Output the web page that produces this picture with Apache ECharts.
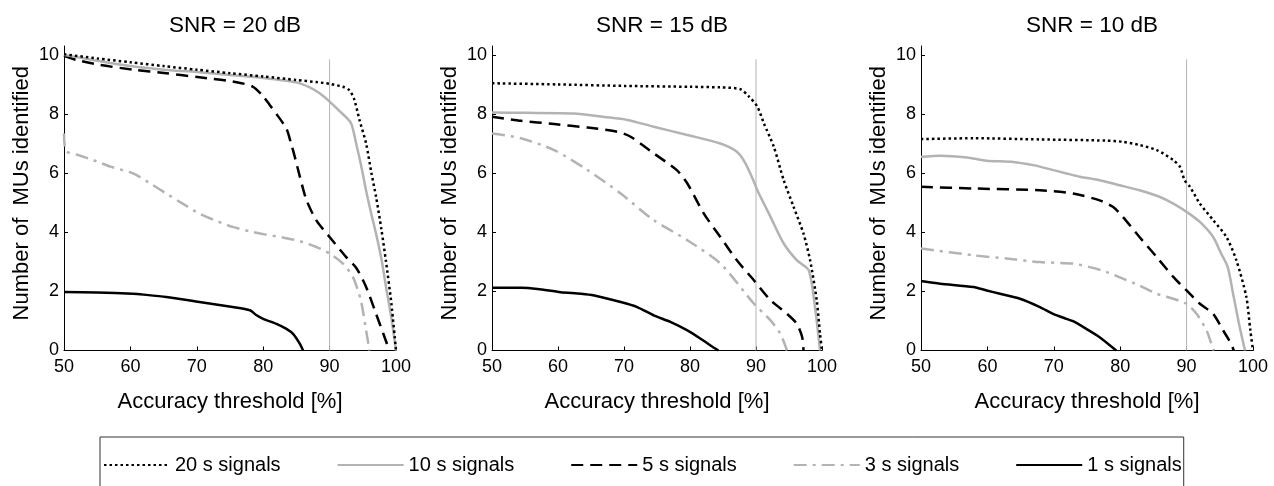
<!DOCTYPE html>
<html>
<head>
<meta charset="utf-8">
<script src="https://cdn.jsdelivr.net/npm/echarts@6/dist/echarts.min.js"></script>
<style>
html,body{margin:0;padding:0;background:#fff;}
#chart{width:1274px;height:486px;}
</style>
</head>
<body>
<div id="chart"></div>
<script>
// ---- data ----
const panelTitles = ['SNR = 20 dB', 'SNR = 15 dB', 'SNR = 10 dB'];
const seriesNames = ['20 s signals', '10 s signals', '5 s signals', '3 s signals', '1 s signals'];
const xTicks = [50, 60, 70, 80, 90, 100];
const yTicks = [0, 2, 4, 6, 8, 10];
const refLine = [[90, 0], [90, 9.85]];

// SNR = 20 dB
const snr20_s20 = [[50,10.02],[55,9.88],[60,9.75],[65,9.62],[70,9.5],[75,9.38],[80,9.27],[85,9.15],[88,9.08],[90,9.02],[92,8.92],[93,8.8],[93.7,8.5],[94.5,7.8],[95.5,7.0],[96.3,6.0],[97,5.2],[97.8,4.1],[98.5,3.0],[99.3,1.6],[100,0]];
const snr20_s10 = [[50,10.0],[55,9.8],[60,9.62],[65,9.5],[70,9.42],[75,9.32],[80,9.22],[85,9.07],[87,8.9],[88.5,8.7],[90,8.42],[91.5,8.1],[93.2,7.7],[94,7.0],[94.8,6.2],[95.5,5.4],[96.3,4.6],[97,3.95],[97.8,3.1],[98.5,2.15],[99.3,1.1],[100,0]];
const snr20_s5 = [[50,9.97],[52,9.82],[55.4,9.66],[60.4,9.5],[65.4,9.38],[70.4,9.24],[75.4,9.1],[78.4,8.93],[80,8.6],[81,8.3],[82,8.0],[83.5,7.5],[84.2,7.0],[84.7,6.6],[85.5,5.9],[86.5,5.1],[88,4.4],[90,3.84],[92.5,3.16],[94,2.8],[95.5,2.15],[97,1.24],[98.2,0.5],[99,0]];
const snr20_s3 = [[50,7.34],[50.3,6.75],[52,6.62],[54.4,6.44],[57,6.22],[60.4,5.99],[63,5.65],[65.4,5.31],[68,4.95],[70.4,4.63],[73,4.38],[75.4,4.18],[78,4.03],[80.4,3.92],[83,3.82],[85.5,3.7],[88,3.5],[90,3.28],[92,2.94],[93.5,2.49],[94.7,1.7],[95.5,0.68],[96,0]];
const snr20_s1 = [[50,1.98],[55,1.96],[60.4,1.92],[62,1.89],[65.4,1.81],[70.4,1.64],[75.4,1.47],[78,1.36],[79,1.19],[80,1.07],[82,0.9],[83.5,0.73],[84.5,0.56],[85.5,0.23],[86,0]];

// SNR = 15 dB
const snr15_s20 = [[50,9.04],[60,9.0],[70,8.95],[80,8.92],[84.6,8.9],[87.6,8.84],[88.9,8.6],[90.2,8.25],[91.2,7.68],[92.7,6.89],[94.2,5.76],[95.7,4.86],[97.2,3.95],[98.2,3.05],[99.2,1.7],[99.7,0.56],[100,0]];
const snr15_s10 = [[50,8.05],[55,8.04],[62.4,8.02],[67,7.9],[70.5,7.8],[74.5,7.57],[79.6,7.29],[84.6,7.0],[87.1,6.72],[88.4,6.33],[89.7,5.7],[90.2,5.42],[92.2,4.52],[94.2,3.62],[96.2,3.05],[98,2.71],[99,1.36],[99.7,0]];
const snr15_s5 = [[50,7.91],[54.4,7.77],[59.4,7.66],[64.5,7.54],[69,7.4],[71,7.23],[74.5,6.67],[78,6.1],[79.6,5.65],[82.1,4.63],[84.6,3.84],[87.1,3.05],[89.7,2.37],[92.2,1.7],[94.7,1.24],[96.2,0.9],[97,0.45],[97.2,0]];
const snr15_s3 = [[50,7.34],[54.4,7.18],[59.4,6.78],[64.5,6.1],[69.5,5.31],[74.5,4.41],[79.6,3.73],[84.6,2.94],[89.7,1.58],[92.2,1.02],[93.7,0.56],[94.7,0]];
const snr15_s1 = [[50,2.12],[54.4,2.12],[56.9,2.08],[60.4,1.97],[63.5,1.92],[65.5,1.86],[69.5,1.64],[72,1.47],[74.5,1.19],[77.1,0.96],[79.6,0.68],[81.6,0.4],[83.1,0.17],[84.3,0]];

// SNR = 10 dB
const snr10_s20 = [[50,7.15],[57.9,7.18],[67.9,7.14],[77.9,7.1],[80.4,7.06],[82.9,6.95],[85.5,6.78],[88,6.44],[89,6.21],[89.7,5.76],[90.5,5.54],[92,4.97],[94,4.41],[96,3.84],[97.5,3.05],[99,1.81],[99.6,0.68],[100,0]];
const snr10_s10 = [[50,6.55],[52.9,6.59],[56.9,6.53],[59.9,6.42],[63.9,6.38],[66.9,6.27],[68.9,6.16],[71.9,5.99],[73.9,5.88],[76.9,5.76],[79.9,5.59],[82.9,5.42],[85.9,5.2],[88,4.97],[90,4.69],[92,4.35],[94,3.84],[95.2,3.28],[96.2,2.82],[97,1.92],[97.9,0.9],[98.8,0]];
const snr10_s5 = [[50,5.54],[57.9,5.48],[67.9,5.42],[72.9,5.31],[76.9,5.08],[78.9,4.86],[80.4,4.52],[82.9,3.84],[85.5,3.16],[88,2.49],[90,2.03],[92,1.58],[94,1.24],[95.5,0.68],[96.7,0.23],[97.1,0]];
const snr10_s3 = [[50,3.45],[57.9,3.22],[62.9,3.11],[67.9,2.99],[72.9,2.94],[75.4,2.82],[77.9,2.66],[80.4,2.43],[82.9,2.2],[85.5,1.92],[88,1.75],[90,1.58],[91.5,1.24],[93,0.68],[93.7,0.25],[94.1,0]];
const snr10_s1 = [[50,2.35],[52.9,2.26],[57.9,2.15],[59.9,2.03],[61.9,1.92],[64.9,1.75],[67.9,1.47],[69.9,1.24],[71.9,1.07],[72.9,0.99],[74.9,0.73],[76.9,0.45],[79.4,0]];

const panelData = [
  [snr20_s20, snr20_s10, snr20_s5, snr20_s3, snr20_s1],
  [snr15_s20, snr15_s10, snr15_s5, snr15_s3, snr15_s1],
  [snr10_s20, snr10_s10, snr10_s5, snr10_s3, snr10_s1]
];

// ---- styles / layout ----
const FONT = 'Liberation Sans, Arial, Helvetica, sans-serif';
const GRAY = '#b3b3b3';
const lineStyles = [
  { color: '#000', width: 2.5, type: [2.5, 3] },
  { color: GRAY, width: 2.5, type: 'solid' },
  { color: '#000', width: 2.5, type: [12, 7] },
  { color: GRAY, width: 2.5, type: [13, 6, 3, 6] },
  { color: '#000', width: 2.5, type: 'solid' }
];
const grids = [
  { left: 64, top: 46, width: 332, height: 304.5 },
  { left: 492, top: 46, width: 330, height: 304.5 },
  { left: 921, top: 46, width: 332, height: 304.5 }
];

const option = {
  animation: false,
  backgroundColor: '#fff',
  textStyle: { fontFamily: FONT },
  title: panelTitles.map((t, i) => ({
    text: t,
    left: grids[i].left + grids[i].width / 2,
    textAlign: 'center',
    top: 9,
    textStyle: { fontFamily: FONT, fontSize: 22.5, fontWeight: 'normal', color: '#000' }
  })),
  legend: {
    data: seriesNames,
    left: 100,
    top: 437,
    itemWidth: 66,
    itemHeight: 14,
    itemGap: 56,
    padding: [18, 2, 30, 3],
    borderColor: '#333',
    borderWidth: 1,
    itemStyle: { opacity: 0, borderWidth: 0 },
    textStyle: { fontFamily: FONT, fontSize: 20, color: '#000' }
  },
  grid: grids,
  xAxis: grids.map((g, i) => ({
    type: 'value',
    gridIndex: i,
    min: 50, max: 100, interval: 10,
    name: 'Accuracy threshold [%]',
    nameLocation: 'middle',
    nameGap: 40,
    nameTextStyle: { fontFamily: FONT, fontSize: 22, color: '#000' },
    axisLine: { lineStyle: { color: '#000', width: 1 } },
    axisTick: { inside: true, length: 4, lineStyle: { color: '#000' }, customValues: xTicks },
    axisLabel: { fontFamily: FONT, fontSize: 18, color: '#000', margin: 8, customValues: xTicks },
    splitLine: { show: false }
  })),
  yAxis: grids.map((g, i) => ({
    type: 'value',
    gridIndex: i,
    min: 0, max: 10.3,
    name: 'Number of  MUs identified',
    nameLocation: 'middle',
    nameGap: 31,
    nameTextStyle: { fontFamily: FONT, fontSize: 22, color: '#000', padding: [0, 0, 0, 10] },
    axisLine: { show: true, lineStyle: { color: '#000', width: 1 } },
    axisTick: { show: true, inside: true, length: 4, lineStyle: { color: '#000' }, customValues: yTicks },
    axisLabel: { fontFamily: FONT, fontSize: 18, color: '#000', margin: 5, customValues: yTicks },
    splitLine: { show: false }
  })),
  series: []
};

panelData.forEach((arrs, p) => {
  option.series.push({
    type: 'line',
    name: 'ref',
    xAxisIndex: p, yAxisIndex: p,
    data: refLine,
    symbol: 'none',
    silent: true,
    lineStyle: { color: GRAY, width: 1 },
    z: 1
  });
  arrs.forEach((d, k) => {
    option.series.push({
      type: 'line',
      name: seriesNames[k],
      xAxisIndex: p, yAxisIndex: p,
      data: d,
      symbol: 'none',
      smooth: 0.25,
      lineStyle: Object.assign({ cap: 'butt', join: 'round' }, lineStyles[k]),
      itemStyle: { color: lineStyles[k].color },
      z: 2 + (4 - k)
    });
  });
});

const chart = echarts.init(document.getElementById('chart'), null, { renderer: 'canvas' });
chart.setOption(option);
</script>
</body>
</html>
